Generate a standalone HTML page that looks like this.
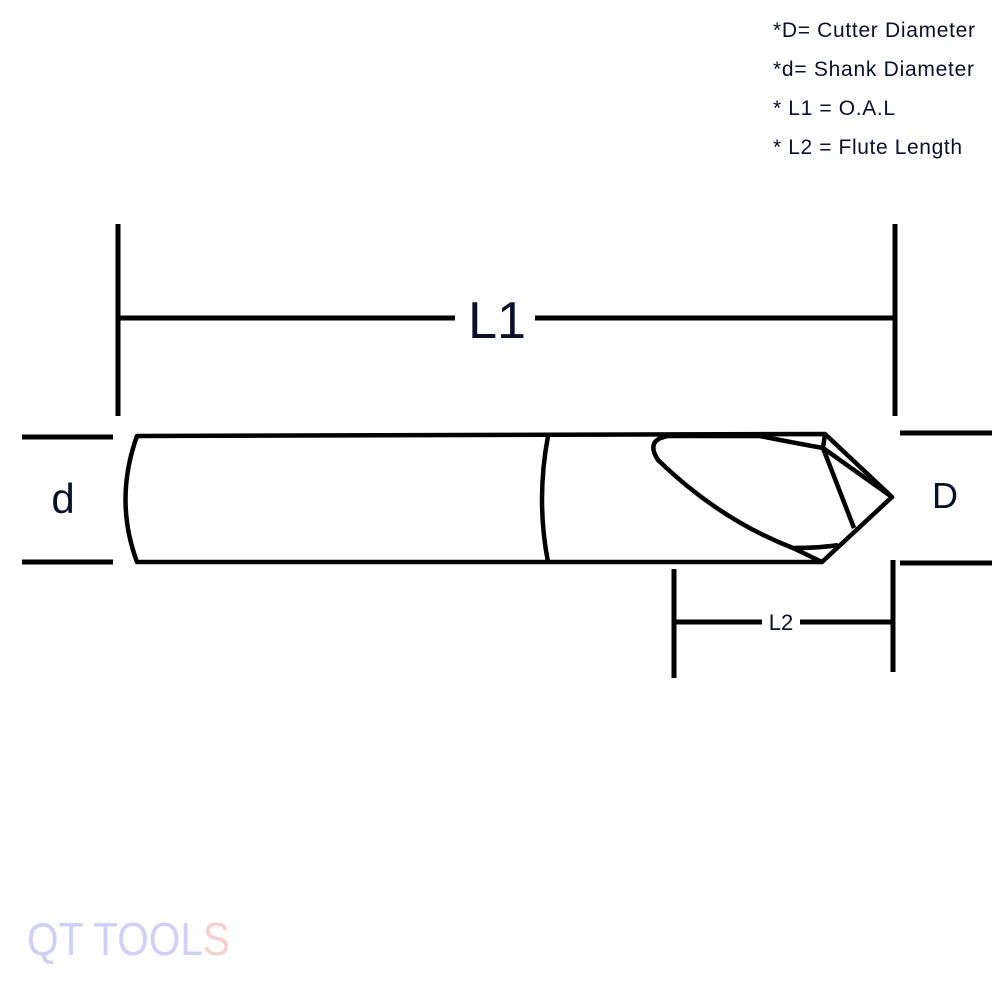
<!DOCTYPE html>
<html><head><style>
html,body{margin:0;padding:0;background:#fff;width:1000px;height:1000px;overflow:hidden}
svg{display:block}
</style></head><body>
<svg width="1000" height="1000" viewBox="0 0 1000 1000" xmlns="http://www.w3.org/2000/svg">
<g font-family="Liberation Sans, sans-serif" fill="#0a0f2a" font-size="21" lengthAdjust="spacingAndGlyphs">
<text x="773" y="37" textLength="202">*D= Cutter Diameter</text>
<text x="773" y="76" textLength="201">*d= Shank Diameter</text>
<text x="773" y="115" textLength="122">* L1 = O.A.L</text>
<text x="773" y="154" textLength="189">* L2 = Flute Length</text>
</g>
<g stroke="#000" stroke-width="5" fill="none">
<line x1="118" y1="224" x2="118" y2="416"/>
<line x1="895" y1="224" x2="895" y2="416"/>
<line x1="118" y1="318" x2="455" y2="318"/>
<line x1="535" y1="318" x2="895" y2="318"/>
<line x1="22" y1="437" x2="113" y2="437"/>
<line x1="22" y1="562" x2="113" y2="562"/>
<line x1="900" y1="433" x2="992" y2="433"/>
<line x1="900" y1="563" x2="992" y2="563"/>
<line x1="674" y1="569" x2="674" y2="678"/>
<line x1="893" y1="560" x2="893" y2="672"/>
<line x1="674" y1="622" x2="762" y2="622"/>
<line x1="800" y1="622" x2="893" y2="622"/>
</g>
<g stroke="#000" stroke-width="4.5" fill="none" stroke-linejoin="round">
<path d="M137 436 L825 434 L892 497 L822 562 L137 562 Q114 500 137 436 Z"/>
<path d="M548 436 Q536 500 548 562"/>
<path d="M823 448 L854 528"/>
<path d="M825 434 L823 448 L892 497"/>
<path d="M823 448 Q790 442 760 436 L668 436 Q645 440 658 460 Q720 520 793 548 Q820 548 838 545"/>
<path d="M793 548 L822 562"/>
</g>
<text x="497" y="338" text-anchor="middle" font-family="Liberation Sans, sans-serif" font-size="52" fill="#0a0f2a">L1</text>
<text x="63" y="513" text-anchor="middle" font-family="Liberation Sans, sans-serif" font-size="42" fill="#0a0f2a">d</text>
<text x="945" y="508" text-anchor="middle" font-family="Liberation Sans, sans-serif" font-size="36" fill="#0a0f2a">D</text>
<text x="781" y="630" text-anchor="middle" font-family="Liberation Sans, sans-serif" font-size="22" fill="#0a0f2a">L2</text>
<text x="27" y="955" font-family="Liberation Sans, sans-serif" font-size="46" fill="#cfcff8" textLength="203" lengthAdjust="spacingAndGlyphs">QT TOOL<tspan fill="#f6d0d0">S</tspan></text>
</svg>
</body></html>
